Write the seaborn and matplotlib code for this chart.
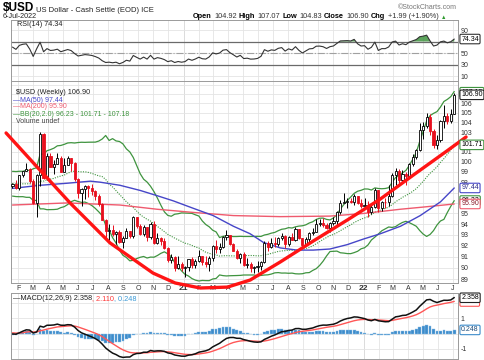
import matplotlib
matplotlib.use("Agg")
import matplotlib.pyplot as plt
from matplotlib.ticker import FixedLocator, FixedFormatter, NullLocator, NullFormatter
import seaborn as sns
import pandas as pd
import numpy as np

sns.set_theme(style="white")
plt.rcParams['font.family'] = ['Liberation Sans', 'DejaVu Sans']

# weekly closes before the visible window, only used to warm up BB / RSI / MACD
pre_closes = [96.54, 97.57, 96.22, 96.13, 97.28, 96.82, 97.16, 97.92, 98.09, 97.55,
              98.13, 97.66, 98.87, 98.40, 98.08, 98.53, 99.12, 98.80, 98.30, 97.28,
              97.83, 97.24, 98.35, 98.00, 98.27, 98.27, 97.69, 97.16, 97.70, 96.92,
              96.84, 97.36, 97.61]

# weekly candles, weeks starting 20-Jan-2020 .. 4-Jul-2022
first_week = "2020-01-20"
first_open = 97.61
last_open = 104.92
closes = [97.87, 97.39, 98.69, 99.10, 99.26, 98.13, 95.95, 98.75, 102.82, 98.37,
          100.58, 99.51, 99.76, 100.37, 99.03, 99.73, 100.38, 99.86, 98.34, 96.94,
          97.30, 97.60, 97.43, 97.18, 96.65, 95.92, 94.43, 93.34, 93.44, 93.09,
          93.25, 92.36, 92.72, 93.33, 92.93, 94.64, 93.84, 93.05, 93.69, 92.77,
          94.04, 92.23, 92.75, 92.39, 91.79, 90.70, 90.98, 90.02, 90.30, 89.94,
          90.10, 90.77, 90.24, 90.58, 91.04, 90.48, 90.36, 90.88, 91.99, 91.67,
          91.92, 92.77, 92.94, 92.16, 91.56, 90.86, 91.28, 90.23, 90.32, 90.00,
          90.03, 90.14, 90.56, 92.23, 91.85, 92.23, 92.13, 92.69, 92.90, 92.17,
          92.78, 92.52, 93.50, 92.68, 92.03, 92.58, 93.20, 93.30, 94.04, 94.08,
          93.96, 93.63, 94.12, 94.32, 95.12, 96.03, 96.08, 96.15, 96.10, 96.68,
          96.03, 95.67, 95.76, 95.17, 95.64, 97.27, 95.48, 96.08, 96.07, 96.62,
          98.66, 99.13, 98.23, 98.79, 98.57, 99.80, 100.50, 101.19, 103.19, 103.66,
          104.56, 103.15, 101.67, 102.17, 104.15, 104.70, 104.18, 104.91, 106.90]
highs = [97.95, 98.20, 98.73, 99.13, 99.91, 99.38, 98.30, 98.80, 102.99, 102.90,
         100.93, 100.86, 100.19, 100.93, 100.55, 100.40, 100.56, 100.41, 99.97, 98.43,
         97.45, 97.75, 97.69, 97.81, 97.22, 96.90, 95.98, 94.50, 93.99, 93.90,
         93.36, 93.47, 92.92, 93.66, 93.40, 94.74, 94.65, 94.00, 93.91, 93.72,
         94.22, 94.31, 93.21, 92.83, 92.73, 91.92, 91.21, 91.08, 91.02, 90.48,
         90.16, 90.80, 90.95, 90.77, 91.60, 91.05, 91.03, 91.10, 92.10, 92.51,
         92.22, 92.86, 93.44, 93.02, 92.26, 91.71, 91.33, 91.43, 90.91, 90.50,
         90.18, 90.63, 90.60, 92.41, 92.41, 92.74, 92.83, 92.83, 93.19, 92.95,
         92.86, 93.20, 93.73, 93.52, 92.74, 92.76, 93.27, 93.60, 94.50, 94.47,
         94.56, 94.08, 94.23, 94.63, 95.26, 96.26, 96.94, 96.46, 96.45, 96.89,
         96.70, 96.33, 96.46, 96.14, 95.91, 97.44, 97.27, 96.23, 96.43, 97.73,
         98.94, 99.42, 99.29, 99.20, 99.04, 99.91, 100.76, 101.32, 103.93, 104.07,
         105.01, 104.85, 103.28, 102.73, 104.25, 105.79, 104.94, 105.40, 107.07]
lows = [97.45, 97.35, 97.28, 98.55, 99.05, 97.88, 95.87, 94.65, 97.66, 98.27,
        98.17, 99.48, 98.81, 99.75, 98.99, 98.98, 99.65, 99.05, 98.08, 96.46,
        95.71, 96.34, 96.57, 96.80, 96.24, 95.69, 94.38, 92.55, 92.52, 92.88,
        92.13, 92.29, 91.75, 92.70, 92.70, 92.70, 93.68, 92.97, 92.93, 92.47,
        92.64, 92.13, 92.13, 92.07, 91.73, 90.50, 90.40, 89.73, 89.88, 89.67,
        89.21, 89.71, 89.99, 89.94, 90.51, 90.26, 90.11, 89.68, 90.65, 91.35,
        91.31, 91.81, 92.57, 92.04, 91.53, 90.82, 90.42, 90.20, 89.98, 89.65,
        89.53, 89.66, 89.81, 90.40, 91.51, 91.80, 91.91, 91.94, 92.49, 91.78,
        91.95, 92.48, 92.45, 92.62, 91.94, 92.02, 92.37, 92.97, 93.22, 93.81,
        93.77, 93.50, 93.28, 93.88, 93.87, 94.98, 95.95, 95.52, 95.98, 95.84,
        95.88, 95.54, 95.64, 94.63, 94.94, 95.50, 95.14, 95.24, 95.50, 95.67,
        96.59, 97.72, 97.94, 98.09, 97.69, 98.52, 99.59, 100.26, 101.09, 102.35,
        103.44, 102.67, 101.43, 101.30, 101.99, 103.41, 103.86, 103.93, 104.83]

# moving averages
ma50_dates = ["2020-01-20", "2020-03-16", "2020-05-10", "2020-06-26", "2020-07-16",
              "2020-08-25", "2020-10-05", "2020-11-08", "2020-12-11", "2021-01-20",
              "2021-03-02", "2021-04-12", "2021-05-16", "2021-06-12", "2021-07-16",
              "2021-08-19", "2021-09-21", "2021-10-25", "2021-11-29", "2021-12-31",
              "2022-02-04", "2022-03-17", "2022-04-26", "2022-06-06", "2022-07-04"]
ma50_vals = [97.4, 97.7, 97.9, 98.1, 98.0, 97.7, 97.2, 96.7, 96.2, 95.5,
             94.8, 93.8, 93.1, 92.3, 91.8, 91.6, 91.6, 91.7, 92.1, 92.6,
             93.1, 93.8, 94.8, 96.1, 97.44]
ma200_dates = ["2020-01-20", "2020-05-10", "2020-08-25", "2020-11-08", "2021-01-20",
               "2021-04-12", "2021-07-16", "2021-10-25", "2022-01-01", "2022-03-17",
               "2022-05-01", "2022-07-04"]
ma200_vals = [95.8, 96.0, 95.8, 95.4, 95.1, 94.8, 94.7, 94.75, 95.0, 95.4, 95.6, 95.9]

# hand-drawn red cup annotation
cup_dates = ["2020-01-07", "2020-03-10", "2020-05-16", "2020-08-05", "2020-10-31",
             "2020-12-15", "2021-02-04", "2021-03-31", "2021-05-16", "2021-07-16",
             "2021-09-21", "2021-11-29", "2022-02-04", "2022-04-12", "2022-06-19",
             "2022-07-28"]
cup_prices = [102.92, 99.49, 95.99, 92.25, 89.53, 88.65, 88.21, 88.29, 88.91, 90.52,
              92.43, 94.38, 96.37, 98.70, 101.09, 102.51]

price_ticks = list(range(89, 109))
price_labels = [str(t) if t not in (96, 97, 102, 107, 108) else "" for t in price_ticks]
rsi_ticks = [10, 30, 50, 70, 90]
rsi_labels = ["10", "30", "50", "", "90"]
macd_ticks = [-1, 0, 1, 2]
macd_labels = ["-1", "", "1", ""]

# ---- indicators
n = len(closes)
dates = pd.date_range(first_week, periods=n, freq="W-MON")
c = np.array(closes)
o = np.array([first_open] + closes[:-1])
o[-1] = last_open
hi = np.array(highs)
lo = np.array(lows)

s = pd.Series(pre_closes + closes)
mid = s.rolling(20).mean()
sd = s.rolling(20).std(ddof=0)
bb_mid = mid.values[-n:]
bb_up = (mid + 2 * sd).values[-n:]
bb_lo = (mid - 2 * sd).values[-n:]

d = s.diff()
gain = d.clip(lower=0).ewm(alpha=1 / 14, adjust=False).mean()
loss = (-d.clip(upper=0)).ewm(alpha=1 / 14, adjust=False).mean()
rsi = (100 - 100 / (1 + gain / loss)).values[-n:]

macd = s.ewm(span=12, adjust=False).mean() - s.ewm(span=26, adjust=False).mean()
signal = macd.ewm(span=9, adjust=False).mean()
hist = (macd - signal).values[-n:]
macd = macd.values[-n:]
signal = signal.values[-n:]

# ---- figure layout (pixel based)
W, H = 485, 360
L, R = 11.5, 457.7
fig = plt.figure(figsize=(W / 100, H / 100), dpi=100)


def panel(top, bottom):
    return fig.add_axes([L / W, 1 - bottom / H, (R - L) / W, (bottom - top) / H])


ax_rsi = panel(19.5, 81)
ax = panel(81, 283)
ax_macd = panel(293, 359)

RED = "#e8101e"
GREEN = "#3f943f"
BLUE = "#4646c8"
PINK = "#ef5a6e"
GRID = "#e4e4e4"

# ---- RSI panel
ax_rsi.axhline(70, color="#6a6a6a", lw=0.9)
ax_rsi.axhline(30, color="#6a6a6a", lw=0.9)
ax_rsi.axhline(50, color="#a0a0a0", lw=0.8, ls="-.")
ax_rsi.fill_between(dates, rsi, 70, where=rsi > 70, interpolate=True, color=GREEN, alpha=0.85, lw=0)
ax_rsi.fill_between(dates, rsi, 30, where=rsi < 30, interpolate=True, color="#5a8fd0", alpha=0.7, lw=0)
sns.lineplot(x=dates, y=rsi, ax=ax_rsi, color="#333333", lw=0.8)

# ---- price panel
ax.set_yscale("log")
sns.lineplot(x=dates, y=bb_up, ax=ax, color=GREEN, lw=0.9)
sns.lineplot(x=dates, y=bb_lo, ax=ax, color=GREEN, lw=0.9)
sns.lineplot(x=dates, y=bb_mid, ax=ax, color=GREEN, lw=0.8, ls=(0, (1, 1.2)))
sns.lineplot(x=pd.to_datetime(ma200_dates), y=ma200_vals, ax=ax, color=PINK, lw=1.0)
sns.lineplot(x=pd.to_datetime(ma50_dates), y=ma50_vals, ax=ax, color=BLUE, lw=1.0)

prev_close = np.r_[pre_closes[-1], c[:-1]]
col = np.where(c >= prev_close, "black", RED)
face = np.where(c > o, "white", col)
ax.vlines(dates, lo, hi, colors=col, lw=0.7, zorder=3)
ax.bar(dates, np.maximum(np.abs(c - o), 0.06), bottom=np.minimum(o, c), width=4.3,
       color=face, edgecolor=col, linewidth=0.6, zorder=4)

ax.plot(pd.to_datetime(cup_dates), cup_prices, color="#ff1414", lw=2.4,
        solid_capstyle="round", solid_joinstyle="round", zorder=6, clip_on=False)

# ---- MACD panel
ax_macd.bar(dates, hist, width=5.6, color="#3c8ccb", edgecolor="#8fc0e6", linewidth=0.3, zorder=2)
sns.lineplot(x=dates, y=signal, ax=ax_macd, color="#ff5656", lw=1.0)
sns.lineplot(x=dates, y=macd, ax=ax_macd, color="#111111", lw=1.1)

# ---- axes formatting (after plotting so seaborn does not reset it)
xlim = (pd.Timestamp("2020-01-18"), pd.Timestamp("2022-07-11"))
months = pd.date_range("2020-02-01", "2022-07-01", freq="MS")
month_labels = [f"{m.year % 100:02d}" if m.month == 1 else m.strftime("%b")[0] for m in months]

for a in (ax_rsi, ax, ax_macd):
    a.set_xlim(*xlim)
    a.xaxis.set_major_locator(FixedLocator(matplotlib.dates.date2num(months)))
    a.xaxis.set_minor_locator(NullLocator())
    a.grid(True, color=GRID, lw=0.6)
    a.yaxis.tick_right()
    a.tick_params(axis="both", length=0, labelsize=5, labelcolor="#333333", pad=2)
    for sp in a.spines.values():
        sp.set_color("#9a9a9a")
        sp.set_linewidth(0.7)
    for yr in ("2021-01-01", "2022-01-01"):
        a.axvline(pd.Timestamp(yr), color="#b4b4b4", lw=0.7, zorder=0.5)
    a.set_xlabel("")
    a.set_ylabel("")
ax_rsi.xaxis.set_major_formatter(NullFormatter())
ax_macd.xaxis.set_major_formatter(NullFormatter())
ax.xaxis.set_major_formatter(FixedFormatter(month_labels))
ax.tick_params(axis="x", pad=1.5)

ax_rsi.set_ylim(1.4, 108.3)
ax_rsi.yaxis.set_major_locator(FixedLocator(rsi_ticks))
ax_rsi.yaxis.set_major_formatter(FixedFormatter(rsi_labels))

ax.set_ylim(88.65, 108.38)
ax.yaxis.set_major_locator(FixedLocator(price_ticks))
ax.yaxis.set_major_formatter(FixedFormatter(price_labels))
ax.yaxis.set_minor_locator(NullLocator())
ax.yaxis.set_minor_formatter(NullFormatter())

ax_macd.set_ylim(-1.66, 2.67)
ax_macd.yaxis.set_major_locator(FixedLocator(macd_ticks))
ax_macd.yaxis.set_major_formatter(FixedFormatter(macd_labels))

fig.canvas.draw()
for lbl in ax.get_xticklabels():
    if lbl.get_text() in ("21", "22"):
        lbl.set_fontweight("bold")
        lbl.set_fontsize(6)


# ---- right-hand value boxes
def value_box(a, y, text, edge, tcolor="black"):
    a.annotate(text, xy=(1, y), xycoords=a.get_yaxis_transform(), xytext=(2.5, 0),
               textcoords="offset points", ha="left", va="center", fontsize=5, color=tcolor,
               bbox=dict(boxstyle="round,pad=0.18", fc="white", ec=edge, lw=0.8),
               annotation_clip=False, zorder=20)


value_box(ax, 107.18, "107.18", GREEN)
value_box(ax, 106.90, "106.90", "#222222")
value_box(ax, 101.71, "101.71", GREEN)
value_box(ax, 97.44, "97.44", BLUE, "#2a2a8a")
value_box(ax, 96.23, "96.23", GREEN)
value_box(ax, 95.90, "95.90", PINK, "#8a1a2a")
value_box(ax_rsi, 74.34, "74.34", "#333333")
value_box(ax_macd, 0.248, "0.248", "#3c8ccb", "#1c4c7b")
value_box(ax_macd, 2.110, "2.110", "#ff5656")
value_box(ax_macd, 2.358, "2.358", "#222222")


# ---- text
def chain(a, x, y, pieces, size, transform, gap=1.2):
    prev = a.text(x, y, pieces[0][0], color=pieces[0][1], fontweight=pieces[0][2],
                  fontsize=pieces[0][3] if len(pieces[0]) > 3 else size,
                  transform=transform, va="baseline", ha="left")
    for p in pieces[1:]:
        prev = a.annotate(p[0], xy=(1, 0), xycoords=prev, xytext=(gap, 0),
                          textcoords="offset points", va="bottom", ha="left",
                          color=p[1], fontweight=p[2], fontsize=p[3] if len(p) > 3 else size)
    return prev


chain(ax_rsi, 3 / W, 1 - 11 / H, [("$USD", "black", "bold", 8.5),
                                  ("US Dollar - Cash Settle (EOD) ICE", "#222222", "normal")],
      5.5, fig.transFigure)
fig.text(3 / W, 1 - 18 / H, "6-Jul-2022", fontsize=5.2, color="#222222")
fig.text(457 / W, 1 - 9 / H, "\u00a9StockCharts.com", fontsize=5, color="#777777", ha="right")
chain(ax_rsi, 193 / W, 1 - 18 / H,
      [("Open", "black", "bold"), ("104.92", "#333333", "normal"),
       ("High", "black", "bold"), ("107.07", "#333333", "normal"),
       ("Low", "black", "bold"), ("104.83", "#333333", "normal"),
       ("Close", "black", "bold"), ("106.90", "#333333", "normal"),
       ("Chg", "black", "bold"), ("+1.99 (+1.90%)", "#333333", "normal"),
       ("\u25b2", "#2e9a2e", "normal", 4)], 5.3, fig.transFigure, gap=1.6)


def px_label(a, top_px, y_px, text, color, size=5, x_px=15):
    a.annotate(text, xy=(0, 1), xycoords="axes fraction",
               xytext=(x_px - L, -(y_px - top_px)), textcoords="offset pixels",
               ha="left", va="center", fontsize=size, color=color, zorder=15)


px_label(ax_rsi, 19.5, 24.5, "RSI(14) 74.34", "#222222", 5.2, 17)
px_label(ax, 81, 93, "$USD (Weekly) 106.90", "#222222", 5.2, 16)
px_label(ax, 81, 100, "\u2014MA(50) 97.44", BLUE, 5, 13)
px_label(ax, 81, 107, "\u2014MA(200) 95.90", PINK, 5, 13)
px_label(ax, 81, 114.5, "\u2014BB(20,2.0) 96.23 - 101.71 - 107.18", GREEN, 5, 13)
px_label(ax, 81, 121.5, "Volume undef", "#444444", 5, 16)

t = ax_macd.annotate("\u2014MACD(12,26,9) 2.358", xy=(0, 1), xycoords="axes fraction",
                     xytext=(13 - L, -6), textcoords="offset pixels", ha="left", va="center",
                     fontsize=5.3, color="#222222", zorder=15)
t = ax_macd.annotate(", 2.110", xy=(1, 0), xycoords=t, va="bottom", ha="left",
                     fontsize=5.3, color="#ff3a3a")
ax_macd.annotate(", 0.248", xy=(1, 0), xycoords=t, va="bottom", ha="left",
                 fontsize=5.3, color="#3c9ad6")

fig.savefig("out.png", dpi=100)
